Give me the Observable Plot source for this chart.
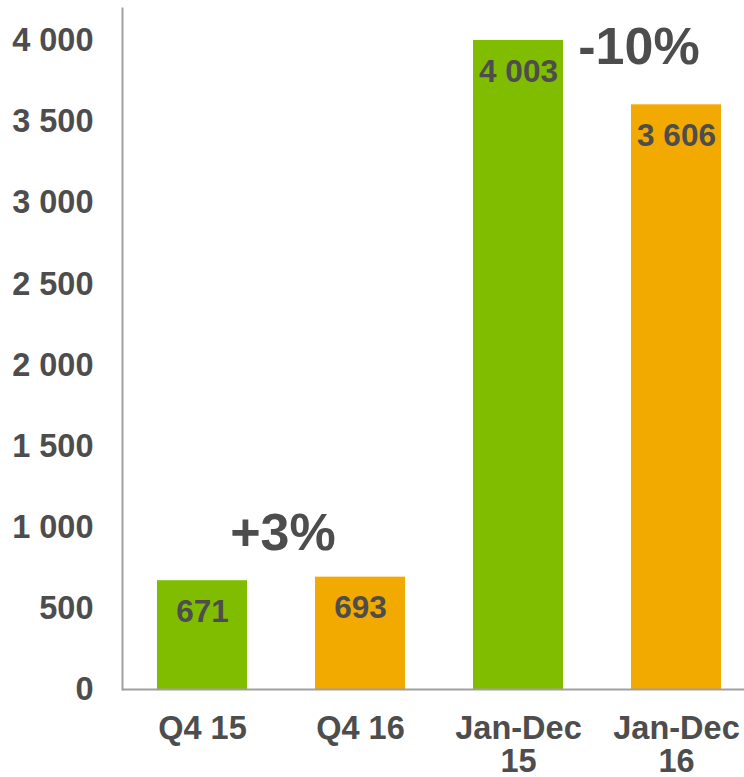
<!DOCTYPE html>
<html>
<head>
<meta charset="utf-8">
<script src="https://cdn.jsdelivr.net/npm/d3@7"></script>
<script src="https://cdn.jsdelivr.net/npm/@observablehq/plot@0.6"></script>
<style>
  html, body { margin: 0; padding: 0; background: #ffffff; }
</style>
</head>
<body>
<div id="chart"></div>
<script>
const categories = ["Q4 15", "Q4 16", "Jan-Dec 15", "Jan-Dec 16"];
const values = [671, 693, 4003, 3606];
const barColors = ["#80BC00", "#F2A900", "#80BC00", "#F2A900"];
const xTickLabels = ["Q4 15", "Q4 16", "Jan-Dec\n15", "Jan-Dec\n16"];
const yTicks = [0, 500, 1000, 1500, 2000, 2500, 3000, 3500, 4000];
const changeLabels = ["+3%", "-10%"];
const changeCategory = ["Q4 16", "Jan-Dec 16"];
const changeValue = [962, 3960];

const fmt = d3.formatLocale({decimal: ".", thousands: " ", grouping: [3], currency: ["", ""]}).format(",d");

const data = categories.map((c, i) => ({cat: c, value: values[i], color: barColors[i]}));
const annots = changeLabels.map((t, i) => ({text: t, cat: changeCategory[i], value: changeValue[i]}));

const textColor = "#4d4d4d";
const axisColor = "#a0a0a0";

const chart = Plot.plot({
  width: 744,
  height: 777,
  marginLeft: 122,
  marginRight: 0,
  marginTop: 8,
  marginBottom: 88,
  style: {fontFamily: "'Liberation Sans', Arial, sans-serif", fontWeight: "bold", color: textColor, background: "#ffffff"},
  x: {domain: categories, paddingInner: 0.4316, paddingOuter: 0.18, align: 0.596, label: null},
  y: {domain: [0, 4200], label: null},
  color: {type: "identity"},
  marks: [
    Plot.barY(data, {x: "cat", y: "value", fill: "color"}),
    Plot.text(data, {x: "cat", y: "value", text: d => fmt(d.value), dy: 31, fontSize: 31.5, fill: textColor}),
    Plot.text(annots.slice(0, 1), {x: "cat", y: "value", text: "text", dx: -77.5, fontSize: 52, fill: textColor}),
    Plot.text(annots.slice(1), {x: "cat", y: "value", text: "text", dx: -37.5, fontSize: 52, fill: textColor}),
    Plot.axisY({ticks: yTicks, tickFormat: fmt, tickSize: 0, tickPadding: 29, fontSize: 32.5, fill: textColor}),
    Plot.axisX({tickFormat: d => xTickLabels[categories.indexOf(d)], tickSize: 0, tickPadding: 26, fontSize: 32.5, lineHeight: 1.02, fill: textColor}),
    Plot.ruleY([0], {stroke: axisColor, strokeWidth: 2}),
    Plot.frame({anchor: "left", stroke: axisColor, strokeWidth: 2})
  ]
});
document.getElementById("chart").appendChild(chart);
</script>
</body>
</html>
